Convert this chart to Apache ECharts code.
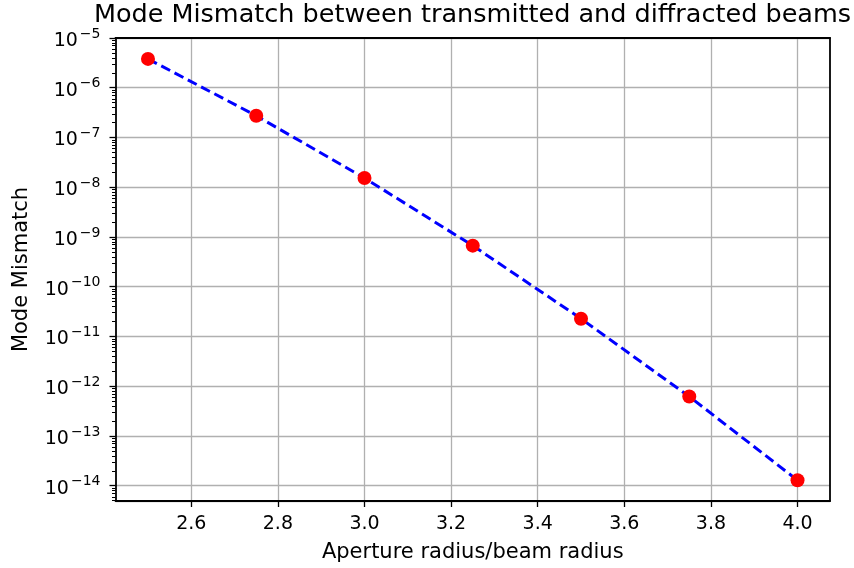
<!DOCTYPE html>
<html>
<head>
<meta charset="utf-8">
<script src="https://cdn.jsdelivr.net/npm/echarts@6/dist/echarts.min.js"></script>
<style>
  html, body { margin: 0; padding: 0; background: #fff; }
  #chart { width: 854px; height: 568px; }
</style>
</head>
<body>
<div id="chart"></div>
<script>
// 横轴：孔径半径/光束半径
var ratios = [2.5, 2.75, 3.0, 3.25, 3.5, 3.75, 4.0];
// 模式失配（对数坐标读取）
var mismatch = [3.8e-6, 2.73e-7, 1.53e-8, 6.7e-10, 2.28e-11, 6.2e-13, 1.29e-14];
// x轴刻度
var xTicks = [2.6, 2.8, 3.0, 3.2, 3.4, 3.6, 3.8, 4.0];

var FONT = 'DejaVu Sans';
var xMin = 2.425, xMax = 4.075;
var yMinExp = -14.307, yMaxExp = -5;

// 对数次刻度 2..9 x 10^n （放在辅助的线性轴上，单位是指数）
var minorExp = [];
for (var n = -15; n <= -6; n++) {
  for (var k = 2; k <= 9; k++) {
    var e = n + Math.log10(k);
    if (e > yMinExp && e < yMaxExp) minorExp.push(e);
  }
}

var frameLine = { show: true, lineStyle: { color: '#000', width: 1.8 } };

var chart = echarts.init(document.getElementById('chart'));

var option = {
  animation: false,
  backgroundColor: '#fff',
  title: {
    text: 'Mode Mismatch between transmitted and diffracted beams',
    left: 472.5,
    textAlign: 'center',
    top: 2,
    padding: 0,
    textStyle: { fontFamily: FONT, fontSize: 25.5, fontWeight: 'normal', color: '#000' }
  },
  grid: { left: 115.5, right: 24, top: 38, bottom: 66 },
  xAxis: [
    {
      type: 'value',
      min: xMin,
      max: xMax,
      name: 'Aperture radius/beam radius',
      nameLocation: 'middle',
      nameGap: 41,
      nameTextStyle: { fontFamily: FONT, fontSize: 21, color: '#000' },
      axisLine: { show: false },
      axisTick: { show: true, length: 6, customValues: xTicks, lineStyle: { color: '#000', width: 1.3 } },
      axisLabel: {
        customValues: xTicks,
        margin: 14,
        fontFamily: FONT, fontSize: 19, color: '#000',
        formatter: function (v) { return v.toFixed(1); }
      },
      splitLine: { show: true, lineStyle: { color: '#b0b0b0', width: 1.3 } }
    },
    // 边框：上、下
    { type: 'value', min: xMin, max: xMax, position: 'top', axisLine: frameLine,
      axisTick: { show: false }, axisLabel: { show: false }, splitLine: { show: false } },
    { type: 'value', min: xMin, max: xMax, position: 'bottom', axisLine: frameLine,
      axisTick: { show: false }, axisLabel: { show: false }, splitLine: { show: false } }
  ],
  yAxis: [
    {
      type: 'log',
      logBase: 10,
      min: Math.pow(10, yMinExp),
      max: Math.pow(10, yMaxExp),
      splitNumber: 10,
      name: 'Mode Mismatch',
      nameLocation: 'middle',
      nameGap: 83,
      nameTextStyle: { fontFamily: FONT, fontSize: 21, color: '#000' },
      axisLine: { show: false },
      axisTick: { show: true, length: 6, lineStyle: { color: '#000', width: 1.3 } },
      axisLabel: {
        margin: 15,
        showMinLabel: false,
        color: '#000',
        formatter: function (v) {
          var p = Math.round(Math.log10(v));
          return '{b|10}{s|\u2212' + Math.abs(p) + '}';
        },
        rich: {
          b: { fontFamily: FONT, fontSize: 19, color: '#000', padding: [6, 0, 0, 0] },
          s: { fontFamily: FONT, fontSize: 14, color: '#000', padding: [0, 0, 8, 2] }
        }
      },
      splitLine: { show: true, lineStyle: { color: '#b0b0b0', width: 1.3 } }
    },
    {
      type: 'value',
      min: yMinExp,
      max: yMaxExp,
      position: 'left',
      axisLine: frameLine,
      axisTick: { show: true, length: 3.5, customValues: minorExp, lineStyle: { color: '#000', width: 1 } },
      axisLabel: { show: false },
      splitLine: { show: false }
    },
    // 边框：右
    { type: 'value', min: yMinExp, max: yMaxExp, position: 'right', axisLine: frameLine,
      axisTick: { show: false }, axisLabel: { show: false }, splitLine: { show: false } }
  ],
  series: [
    {
      type: 'line',
      xAxisIndex: 0,
      yAxisIndex: 0,
      data: ratios.map(function (x, i) { return [x, mismatch[i]]; }),
      symbol: 'circle',
      symbolSize: 14,
      itemStyle: { color: '#ff0000' },
      lineStyle: { color: '#0000ff', width: 3, type: [10, 5] },
      z: 3
    }
  ]
};

chart.setOption(option);
</script>
</body>
</html>
